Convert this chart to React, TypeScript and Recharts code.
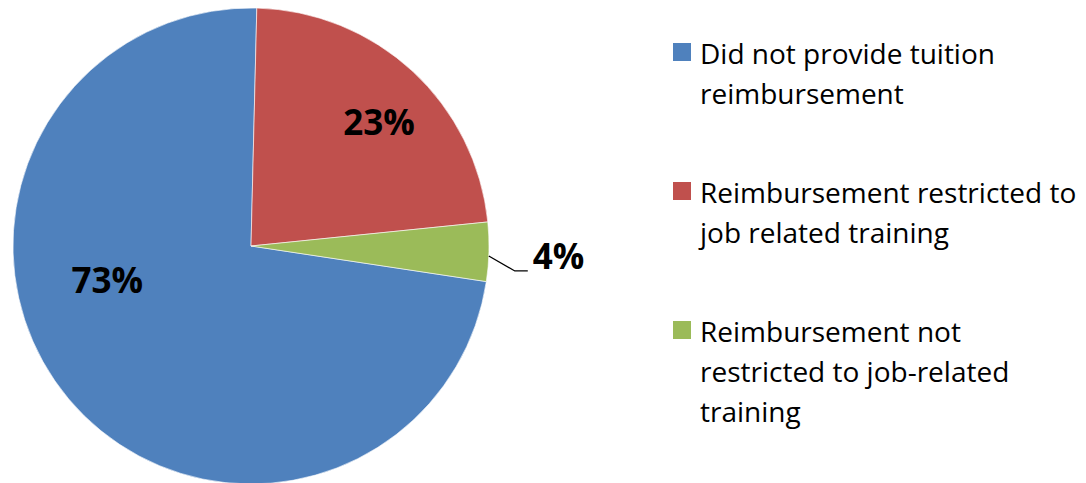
import { PieChart, Pie, Cell, Legend } from "recharts";

const categories = [
  "Did not provide tuition reimbursement",
  "Reimbursement restricted to job related training",
  "Reimbursement not restricted to job-related training",
];
const shares = [73, 23, 4];
const legendLines = [
  ["Did not provide tuition", "reimbursement"],
  ["Reimbursement restricted to", "job related training"],
  ["Reimbursement not", "restricted to job-related", "training"],
];

const COLORS = ["#4F81BD", "#C0504D", "#9BBB59"];
const FONT = "'Open Sans', 'Noto Sans', sans-serif";
const RAD = Math.PI / 180;

const data = categories.map((name, i) => ({ name, value: shares[i] }));

// Excel-style placement: big slice label pulled toward the left, small one outside with a leader
const renderLabel = (props: any) => {
  const { cx, cy, midAngle, outerRadius, index, value } = props;
  if (index === 2) {
    const sx = cx + outerRadius * Math.cos(-(midAngle - 1) * RAD);
    const sy = cy + outerRadius * Math.sin(-(midAngle - 1) * RAD);
    const ex = sx + 26;
    const ey = sy + 15;
    return (
      <g>
        <polyline
          points={`${sx},${sy} ${ex},${ey} ${ex + 13},${ey}`}
          fill="none"
          stroke="#000"
          strokeWidth={1.3}
        />
        <text x={ex + 18} y={ey} dy={-2} fill="#000" fontFamily={FONT} fontWeight={700} fontSize={35}>
          {`${value}%`}
        </text>
      </g>
    );
  }
  const angle = index === 0 ? midAngle - 27 : midAngle - 3;
  const r = outerRadius * (index === 0 ? 0.62 : 0.75);
  const x = cx + r * Math.cos(-angle * RAD);
  const y = cy + r * Math.sin(-angle * RAD);
  return (
    <text
      x={x}
      y={y}
      textAnchor="middle"
      dominantBaseline="central"
      fill="#000"
      fontFamily={FONT}
      fontWeight={700}
      fontSize={35}
    >
      {`${value}%`}
    </text>
  );
};

const renderLegend = () => (
  <div style={{ fontFamily: FONT, fontSize: 28, color: "#000" }}>
    {legendLines.map((lines, i) => (
      <div key={i} style={{ position: "relative", paddingLeft: 27, marginBottom: 59, lineHeight: "40px" }}>
        <span
          style={{
            position: "absolute",
            left: 0,
            top: 10,
            width: 18,
            height: 18,
            background: COLORS[i],
          }}
        />
        {lines.map((l, j) => (
          <div key={j} style={{ whiteSpace: "nowrap" }}>{l}</div>
        ))}
      </div>
    ))}
  </div>
);

export default function App() {
  return (
    <div style={{ position: "absolute", left: 0, top: 0, width: 1086, height: 483, background: "#fff" }}>
      <PieChart width={1086} height={483} margin={{ top: 0, right: 0, bottom: 0, left: 0 }}>
        <Pie
          data={data}
          dataKey="value"
          nameKey="name"
          cx={251}
          cy={246}
          outerRadius={238}
          startAngle={-8.6}
          endAngle={-368.6}
          stroke="#fff"
          strokeWidth={0.6}
          label={renderLabel}
          labelLine={false}
          isAnimationActive={false}
        >
          {data.map((entry, index) => (
            <Cell key={`cell-${index}`} fill={COLORS[index]} />
          ))}
        </Pie>
        <Legend
          layout="vertical"
          verticalAlign="top"
          align="right"
          content={renderLegend}
          wrapperStyle={{ left: 673, top: 33, width: 413 }}
        />
      </PieChart>
    </div>
  );
}
